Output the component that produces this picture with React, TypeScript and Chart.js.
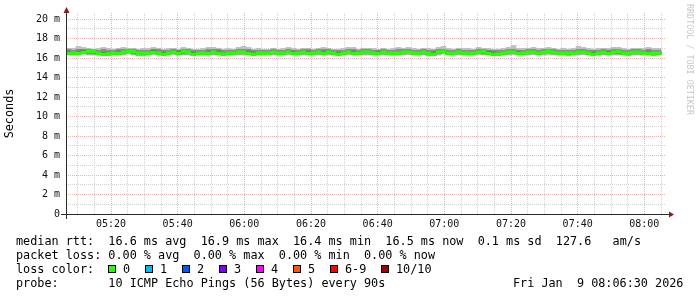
import React, { useEffect, useRef } from "react";
import { Chart, registerables } from "chart.js";

Chart.register(...registerables);

// ---- time axis (minutes since midnight) ----
const START_MINUTE = 306.5; // 05:06:30
const END_MINUTE = 486.5; // 08:06:30
const STEP_COUNT = 120; // 90 s steps
const X_TICK_LABELS = ["05:20", "05:40", "06:00", "06:20", "06:40", "07:00", "07:20", "07:40", "08:00"];
const Y_TICK_LABELS = ["0", "2 m", "4 m", "6 m", "8 m", "10 m", "12 m", "14 m", "16 m", "18 m", "20 m"];

// ---- data (ms), one value per 90 s step ----
const medianRtt = [
  16.5, 16.5, 16.5, 16.6, 16.7, 16.7, 16.5, 16.4, 16.4, 16.5,
  16.5, 16.6, 16.7, 16.7, 16.5, 16.5, 16.5, 16.6, 16.5, 16.4,
  16.5, 16.6, 16.5, 16.7, 16.6, 16.4, 16.5, 16.5, 16.5, 16.6,
  16.5, 16.4, 16.5, 16.5, 16.6, 16.6, 16.5, 16.4, 16.5, 16.5,
  16.5, 16.6, 16.5, 16.5, 16.6, 16.5, 16.5, 16.6, 16.5, 16.5,
  16.6, 16.5, 16.6, 16.5, 16.4, 16.5, 16.6, 16.5, 16.5, 16.6,
  16.6, 16.5, 16.5, 16.6, 16.5, 16.5, 16.5, 16.6, 16.6, 16.5,
  16.5, 16.6, 16.5, 16.4, 16.6, 16.7, 16.5, 16.5, 16.6, 16.5,
  16.5, 16.5, 16.6, 16.7, 16.5, 16.4, 16.4, 16.5, 16.6, 16.6,
  16.5, 16.5, 16.6, 16.6, 16.5, 16.6, 16.7, 16.6, 16.5, 16.5,
  16.5, 16.5, 16.6, 16.6, 16.5, 16.4, 16.5, 16.6, 16.5, 16.6,
  16.7, 16.5, 16.5, 16.6, 16.6, 16.5, 16.5, 16.5, 16.5,
];
const pingMax = [
  17.0, 17.0, 17.2, 17.1, 17.0, 16.9, 17.0, 17.1, 17.0, 16.9,
  17.0, 17.1, 17.0, 17.0, 16.9, 17.0, 17.0, 17.1, 17.0, 16.9,
  17.0, 17.0, 16.9, 17.1, 17.0, 16.9, 16.9, 17.0, 17.1, 17.1,
  17.0, 16.9, 17.0, 16.9, 17.1, 17.2, 17.1, 16.9, 17.0, 16.9,
  16.9, 17.0, 16.9, 17.0, 17.1, 17.0, 16.9, 17.0, 17.0, 16.9,
  17.0, 17.1, 17.0, 16.9, 16.9, 17.0, 17.1, 17.1, 16.9, 17.0,
  17.0, 17.0, 16.9, 17.0, 16.9, 17.0, 17.1, 17.0, 17.1, 17.0,
  16.9, 17.0, 17.0, 16.9, 17.1, 17.2, 17.0, 16.9, 17.0, 17.0,
  17.0, 16.9, 17.1, 17.0, 17.0, 16.9, 16.9, 17.0, 17.1, 17.3,
  17.0, 17.0, 17.0, 17.1, 17.0, 17.0, 17.1, 17.0, 16.9, 17.0,
  16.9, 17.0, 17.2, 17.1, 17.0, 16.9, 17.0, 17.0, 17.0, 17.1,
  17.1, 17.0, 16.9, 17.0, 17.0, 17.0, 17.1, 17.0, 17.0,
];
const pingMin = [
  16.3, 16.4, 16.3, 16.4, 16.3, 16.3, 16.3, 16.3, 16.3, 16.4,
  16.3, 16.3, 16.4, 16.3, 16.2, 16.2, 16.3, 16.4, 16.3, 16.3,
  16.3, 16.4, 16.3, 16.3, 16.3, 16.3, 16.3, 16.3, 16.4, 16.3,
  16.3, 16.3, 16.3, 16.4, 16.3, 16.3, 16.3, 16.3, 16.3, 16.3,
  16.4, 16.3, 16.3, 16.3, 16.4, 16.3, 16.3, 16.3, 16.3, 16.4,
  16.3, 16.3, 16.3, 16.3, 16.2, 16.3, 16.4, 16.3, 16.3, 16.3,
  16.3, 16.3, 16.3, 16.3, 16.3, 16.3, 16.3, 16.3, 16.4, 16.3,
  16.3, 16.3, 16.2, 16.3, 16.3, 16.4, 16.3, 16.3, 16.3, 16.3,
  16.3, 16.3, 16.4, 16.3, 16.3, 16.2, 16.3, 16.3, 16.3, 16.4,
  16.3, 16.3, 16.3, 16.4, 16.3, 16.3, 16.3, 16.3, 16.3, 16.3,
  16.2, 16.3, 16.3, 16.4, 16.3, 16.3, 16.3, 16.3, 16.3, 16.3,
  16.3, 16.3, 16.2, 16.3, 16.3, 16.3, 16.3, 16.2, 16.3,
];
const pingHigh2 = [
  16.9, 16.8, 16.9, 16.9, 16.9, 16.8, 16.8, 16.9, 16.8, 16.8,
  16.9, 16.9, 16.9, 16.9, 16.8, 16.8, 16.8, 16.9, 16.9, 16.8,
  16.8, 16.9, 16.8, 16.9, 16.9, 16.8, 16.8, 16.8, 16.9, 16.9,
  16.9, 16.8, 16.8, 16.8, 16.9, 16.9, 16.9, 16.8, 16.8, 16.8,
  16.8, 16.9, 16.8, 16.8, 16.9, 16.8, 16.8, 16.9, 16.9, 16.8,
  16.9, 16.9, 16.9, 16.8, 16.8, 16.8, 16.9, 16.9, 16.8, 16.9,
  16.9, 16.8, 16.8, 16.9, 16.8, 16.8, 16.9, 16.9, 16.9, 16.8,
  16.8, 16.9, 16.8, 16.8, 16.9, 16.9, 16.8, 16.8, 16.9, 16.8,
  16.8, 16.8, 16.9, 16.9, 16.8, 16.8, 16.8, 16.8, 16.9, 16.9,
  16.8, 16.8, 16.9, 16.9, 16.8, 16.9, 16.9, 16.9, 16.8, 16.8,
  16.8, 16.8, 16.9, 16.9, 16.8, 16.8, 16.8, 16.9, 16.8, 16.9,
  16.9, 16.8, 16.8, 16.9, 16.9, 16.8, 16.9, 16.8, 16.8,
];
const pingLow2 = [
  16.4, 16.4, 16.4, 16.5, 16.4, 16.4, 16.4, 16.3, 16.4, 16.4,
  16.4, 16.4, 16.5, 16.4, 16.3, 16.3, 16.4, 16.4, 16.4, 16.3,
  16.4, 16.4, 16.4, 16.4, 16.4, 16.3, 16.4, 16.4, 16.4, 16.4,
  16.4, 16.3, 16.4, 16.4, 16.4, 16.4, 16.4, 16.3, 16.4, 16.4,
  16.4, 16.4, 16.4, 16.4, 16.4, 16.4, 16.4, 16.4, 16.4, 16.4,
  16.4, 16.4, 16.4, 16.4, 16.3, 16.4, 16.4, 16.4, 16.4, 16.4,
  16.4, 16.4, 16.4, 16.4, 16.4, 16.4, 16.4, 16.4, 16.4, 16.4,
  16.4, 16.4, 16.3, 16.3, 16.4, 16.5, 16.4, 16.4, 16.4, 16.4,
  16.4, 16.4, 16.4, 16.4, 16.4, 16.3, 16.3, 16.4, 16.4, 16.4,
  16.4, 16.4, 16.4, 16.4, 16.4, 16.4, 16.5, 16.4, 16.4, 16.4,
  16.3, 16.4, 16.4, 16.4, 16.4, 16.3, 16.4, 16.4, 16.4, 16.4,
  16.4, 16.4, 16.3, 16.4, 16.4, 16.4, 16.4, 16.3, 16.4,
];
const pingHigh4 = [
  16.7, 16.6, 16.7, 16.8, 16.8, 16.8, 16.6, 16.6, 16.5, 16.6,
  16.7, 16.7, 16.8, 16.8, 16.6, 16.6, 16.6, 16.8, 16.6, 16.6,
  16.6, 16.7, 16.7, 16.8, 16.7, 16.6, 16.6, 16.6, 16.7, 16.7,
  16.7, 16.5, 16.6, 16.6, 16.7, 16.7, 16.7, 16.6, 16.6, 16.6,
  16.6, 16.7, 16.6, 16.6, 16.7, 16.7, 16.6, 16.7, 16.7, 16.6,
  16.7, 16.7, 16.7, 16.6, 16.6, 16.6, 16.7, 16.7, 16.6, 16.7,
  16.7, 16.6, 16.7, 16.7, 16.6, 16.6, 16.6, 16.7, 16.7, 16.6,
  16.6, 16.7, 16.6, 16.6, 16.7, 16.8, 16.6, 16.6, 16.7, 16.6,
  16.6, 16.6, 16.7, 16.8, 16.7, 16.6, 16.5, 16.6, 16.7, 16.7,
  16.7, 16.6, 16.7, 16.7, 16.6, 16.7, 16.8, 16.7, 16.6, 16.6,
  16.6, 16.6, 16.7, 16.7, 16.6, 16.6, 16.6, 16.7, 16.7, 16.7,
  16.8, 16.6, 16.6, 16.7, 16.7, 16.6, 16.7, 16.6, 16.6,
];
const pingLow4 = [
  16.4, 16.5, 16.4, 16.5, 16.6, 16.6, 16.4, 16.4, 16.4, 16.4,
  16.4, 16.5, 16.6, 16.6, 16.4, 16.4, 16.4, 16.5, 16.4, 16.4,
  16.4, 16.5, 16.4, 16.6, 16.5, 16.4, 16.4, 16.4, 16.4, 16.5,
  16.4, 16.4, 16.4, 16.4, 16.5, 16.5, 16.4, 16.4, 16.4, 16.4,
  16.4, 16.5, 16.4, 16.4, 16.5, 16.4, 16.4, 16.5, 16.4, 16.4,
  16.5, 16.4, 16.5, 16.4, 16.4, 16.4, 16.5, 16.4, 16.4, 16.5,
  16.5, 16.4, 16.4, 16.5, 16.4, 16.4, 16.4, 16.5, 16.5, 16.4,
  16.4, 16.5, 16.4, 16.4, 16.5, 16.6, 16.4, 16.4, 16.5, 16.4,
  16.4, 16.4, 16.5, 16.6, 16.4, 16.4, 16.4, 16.4, 16.5, 16.5,
  16.4, 16.4, 16.5, 16.5, 16.4, 16.5, 16.6, 16.5, 16.4, 16.4,
  16.4, 16.4, 16.5, 16.5, 16.4, 16.4, 16.4, 16.5, 16.4, 16.5,
  16.6, 16.4, 16.4, 16.5, 16.5, 16.4, 16.4, 16.4, 16.4,
];

// ---- legend text ----
const LEGEND_MEDIAN = "median rtt:  16.6 ms avg  16.9 ms max  16.4 ms min  16.5 ms now  0.1 ms sd  127.6   am/s";
const LEGEND_LOSS = "packet loss: 0.00 % avg  0.00 % max  0.00 % min  0.00 % now";
const LEGEND_LOSS_COLOR = "loss color:";
const LEGEND_PROBE = "probe:       10 ICMP Echo Pings (56 Bytes) every 90s";
const LEGEND_TIME = "Fri Jan  9 08:06:30 2026";
const LOSS_LABELS = ["0", "1", "2", "3", "4", "5", "6-9", "10/10"];
const LOSS_COLORS = ["#26ff00", "#00b8ff", "#0059ff", "#7e00ff", "#ff00ff", "#ff5500", "#ff0000", "#a10000"];
const WATERMARK = "RRDTOOL / TOBI OETIKER";
const Y_TITLE = "Seconds";

const MONO = '"DejaVu Sans Mono", monospace';
const MINOR_GRID = "#d2d2d2";
const MAJOR_GRID = "#ebb4b4";
const MEDIAN_HALF = 0.15;

function fmtMinute(v: number): string {
  const h = Math.floor(v / 60);
  const m = Math.round(v - h * 60);
  return String(h).padStart(2, "0") + ":" + String(m).padStart(2, "0");
}

const overlayPlugin = {
  id: "smokeOverlay",
  afterDraw(chart: any) {
    const ctx: CanvasRenderingContext2D = chart.ctx;
    const { left, right, top, bottom } = chart.chartArea;
    ctx.save();
    // axes
    ctx.strokeStyle = "#2a2a2a";
    ctx.lineWidth = 1;
    ctx.beginPath();
    ctx.moveTo(left - 5, bottom + 0.5);
    ctx.lineTo(right + 3, bottom + 0.5);
    ctx.moveTo(left + 0.5, bottom + 5);
    ctx.lineTo(left + 0.5, top - 1);
    ctx.stroke();
    // arrows
    ctx.fillStyle = "#8a1c1c";
    ctx.beginPath();
    ctx.moveTo(left + 0.5, top - 6);
    ctx.lineTo(left - 2.5, top);
    ctx.lineTo(left + 3.5, top);
    ctx.closePath();
    ctx.fill();
    ctx.beginPath();
    ctx.moveTo(right + 8, bottom + 0.5);
    ctx.lineTo(right + 3, bottom - 2.5);
    ctx.lineTo(right + 3, bottom + 3.5);
    ctx.closePath();
    ctx.fill();

    // legend
    ctx.fillStyle = "#000";
    ctx.font = "11.8px " + MONO;
    ctx.textAlign = "left";
    ctx.textBaseline = "alphabetic";
    ctx.fillText(LEGEND_MEDIAN, 16, 245);
    ctx.fillText(LEGEND_LOSS, 16, 259);
    ctx.fillText(LEGEND_LOSS_COLOR, 16, 273);
    ctx.fillText(LEGEND_PROBE, 16, 287);
    ctx.fillText(LEGEND_TIME, 513, 287);
    LOSS_LABELS.forEach((lab, k) => {
      const bx = k < 7 ? Math.round(108.3 + 37 * k) : 381;
      ctx.fillStyle = LOSS_COLORS[k];
      ctx.fillRect(bx, 265, 8, 8);
      ctx.strokeStyle = "#000";
      ctx.strokeRect(bx + 0.5, 265.5, 7, 7);
      ctx.fillStyle = "#000";
      ctx.fillText(lab, bx + 15, 273);
    });

    // watermark
    ctx.save();
    ctx.translate(689.5, 4);
    ctx.rotate(Math.PI / 2);
    ctx.fillStyle = "#c8c8c8";
    ctx.font = "8.4px " + MONO;
    ctx.textBaseline = "middle";
    ctx.fillText(WATERMARK, 0, 0);
    ctx.restore();
    ctx.restore();
  },
};

export default function App() {
  const canvasRef = useRef<HTMLCanvasElement | null>(null);

  useEffect(() => {
    const canvas = canvasRef.current;
    if (!canvas) return;
    const labels = Array.from({ length: STEP_COUNT }, (_, i) => String(i));
    const band = (lo: number[], hi: number[]) => lo.map((v, i) => [v, hi[i]]);
    const barBase = {
      type: "bar" as const,
      xAxisID: "x",
      yAxisID: "y",
      grouped: false,
      barPercentage: 1,
      categoryPercentage: 1,
      borderWidth: 0,
    };
    const chart = new Chart(canvas, {
      type: "bar",
      data: {
        labels,
        datasets: [
          { ...barBase, label: "median", order: 0, backgroundColor: LOSS_COLORS[0], data: medianRtt.map((m) => [m - MEDIAN_HALF, m + MEDIAN_HALF]) as any },
          { ...barBase, label: "core", order: 1, backgroundColor: "#3c3c3c", data: band(pingLow4, pingHigh4) as any },
          { ...barBase, label: "mid", order: 2, backgroundColor: "#8e8e8e", data: band(pingLow2, pingHigh2) as any },
          { ...barBase, label: "outer", order: 3, backgroundColor: "#c2c2c2", data: band(pingMin, pingMax) as any },
        ],
      },
      options: {
        responsive: false,
        animation: false,
        devicePixelRatio: 1,
        layout: { padding: { top: 13, right: 31, left: 0, bottom: 0 } },
        plugins: { legend: { display: false }, tooltip: { enabled: false } },
        scales: {
          x: { type: "category", display: false, offset: true },
          xt: {
            type: "linear",
            position: "bottom",
            offset: false,
            min: START_MINUTE,
            max: END_MINUTE,
            afterBuildTicks: (scale: any) => {
              const t = [];
              for (let v = 310; v < END_MINUTE; v += 5) t.push({ value: v });
              scale.ticks = t;
            },
            afterFit: (scale: any) => {
              scale.height = 83;
            },
            grid: {
              offset: false,
              drawTicks: false,
              lineWidth: 1,
              color: (c: any) => (c.tick && X_TICK_LABELS.includes(fmtMinute(c.tick.value)) ? MAJOR_GRID : MINOR_GRID),
            },
            border: { display: false, dash: [1, 1] },
            ticks: {
              autoSkip: false,
              maxRotation: 0,
              minRotation: 0,
              padding: 4,
              color: "#111",
              font: { family: MONO, size: 10 },
              callback: (v: any) => {
                const s = fmtMinute(Number(v));
                return X_TICK_LABELS.includes(s) ? s : "";
              },
            },
          },
          y: {
            type: "linear",
            min: 0,
            max: 20.62,
            afterBuildTicks: (scale: any) => {
              const t = [];
              for (let v = 0; v <= 20; v += 1) t.push({ value: v });
              scale.ticks = t;
            },
            afterFit: (scale: any) => {
              scale.width = 66;
            },
            grid: {
              drawTicks: false,
              lineWidth: 1,
              color: (c: any) => (c.tick && c.tick.value % 2 === 0 ? MAJOR_GRID : MINOR_GRID),
            },
            border: { display: false, dash: [1, 1] },
            title: {
              display: true,
              text: Y_TITLE,
              color: "#000",
              font: { family: MONO, size: 11.8 },
              padding: { top: 3, bottom: 0 },
            },
            ticks: {
              autoSkip: false,
              padding: 6,
              color: "#111",
              font: { family: MONO, size: 10 },
              callback: (v: any) => {
                const n = Number(v);
                return n % 2 === 0 ? Y_TICK_LABELS[n / 2] : "";
              },
            },
          },
        },
      },
      plugins: [overlayPlugin],
    });
    return () => chart.destroy();
  }, []);

  return (
    <div style={{ position: "absolute", left: 0, top: 0, width: 697, height: 297, background: "#fff" }}>
      <canvas ref={canvasRef} width={697} height={297} style={{ display: "block" }} />
    </div>
  );
}
